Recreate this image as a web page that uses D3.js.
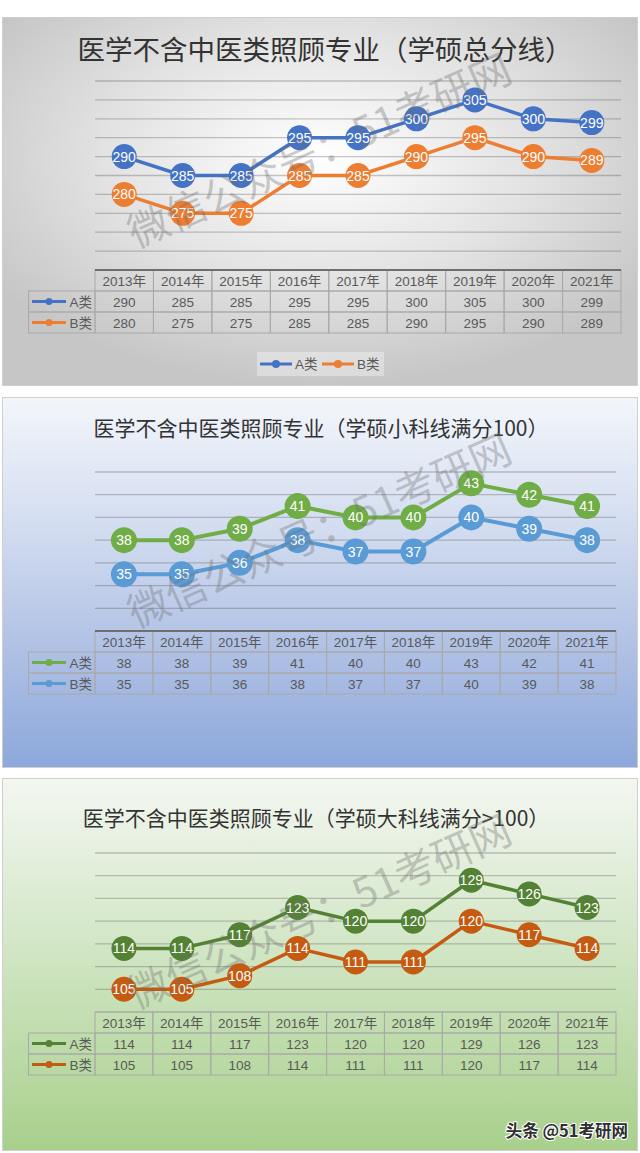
<!DOCTYPE html>
<html>
<head>
<meta charset="utf-8">
<script src="https://cdn.jsdelivr.net/npm/d3@7"></script>
<style>
  body { margin: 0; background: #fff; }
  svg { display: block; }
</style>
</head>
<body>
<script>
// data
const years = ["2013年", "2014年", "2015年", "2016年", "2017年", "2018年", "2019年", "2020年", "2021年"];
const seriesNames = ["A类", "B类"];
const totalA = [290, 285, 285, 295, 295, 300, 305, 300, 299];
const totalB = [280, 275, 275, 285, 285, 290, 295, 290, 289];
const smallA = [38, 38, 39, 41, 40, 40, 43, 42, 41];
const smallB = [35, 35, 36, 38, 37, 37, 40, 39, 38];
const bigA = [114, 114, 117, 123, 120, 120, 129, 126, 123];
const bigB = [105, 105, 108, 114, 111, 111, 120, 117, 114];
const totalGrid = [265, 270, 275, 280, 285, 290, 295, 300, 305, 310];
const smallGrid = [32, 34, 36, 38, 40, 42, 44];
const bigGrid = [105, 110, 115, 120, 125, 130, 135];

const panels = [
  { id: "p1", title: "医学不含中医类照顾专业（学硕总分线）", top: 17, h: 368,
    a: totalA, b: totalB, domain: [260, 310], grid: totalGrid, yTop: 81, yBase: 270,
    x0: 95, x1: 621, colors: ["#4472C4", "#ED7D31"], titleY: 60, titleSize: 27.5,
    titleX: 325, legend: true, r: 12.5, lw: 3.5 },
  { id: "p2", title: "医学不含中医类照顾专业（学硕小科线满分100）", top: 397, h: 370,
    a: smallA, b: smallB, domain: [30, 44], grid: smallGrid, yTop: 472, yBase: 631,
    x0: 95, x1: 616, colors: ["#70AD47", "#5B9BD5"], titleY: 436, titleSize: 21,
    titleX: 321, legend: false, r: 13, lw: 4 },
  { id: "p3", title: "医学不含中医类照顾专业（学硕大科线满分>100）", top: 778, h: 372,
    a: bigA, b: bigB, domain: [100, 135], grid: bigGrid, yTop: 853, yBase: 1012,
    x0: 95, x1: 616, colors: ["#548235", "#C55A11"], titleY: 826, titleSize: 21,
    titleX: 316, legend: false, r: 12.5, lw: 3.5 }
];

init();

function init() {
  let svg = d3.select("body")
              .append("svg")
              .attr("width", 640)
              .attr("height", 1153);

  let defs = svg.append("defs");

  let g1 = defs.append("radialGradient")
               .attr("id", "bg-p1")
               .attr("cx", "50%").attr("cy", "38%").attr("r", "62%");
  g1.append("stop").attr("offset", "0%").attr("stop-color", "#ffffff");
  g1.append("stop").attr("offset", "55%").attr("stop-color", "#e2e2e2");
  g1.append("stop").attr("offset", "100%").attr("stop-color", "#c6c6c6");

  let g2 = defs.append("linearGradient")
               .attr("id", "bg-p2")
               .attr("x1", 0).attr("y1", 0).attr("x2", 0).attr("y2", 1);
  g2.append("stop").attr("offset", "0%").attr("stop-color", "#f3f6fb");
  g2.append("stop").attr("offset", "35%").attr("stop-color", "#d3ddf0");
  g2.append("stop").attr("offset", "70%").attr("stop-color", "#aebfe4");
  g2.append("stop").attr("offset", "100%").attr("stop-color", "#8ca8db");

  let g3 = defs.append("linearGradient")
               .attr("id", "bg-p3")
               .attr("x1", 0).attr("y1", 0).attr("x2", 0).attr("y2", 1);
  g3.append("stop").attr("offset", "0%").attr("stop-color", "#f3f7f1");
  g3.append("stop").attr("offset", "40%").attr("stop-color", "#d6e8cb");
  g3.append("stop").attr("offset", "100%").attr("stop-color", "#a8d08c");

  panels.forEach((p) => drawPanel(svg, p));

  // site stamp bottom right
  svg.append("text")
     .attr("x", 628)
     .attr("y", 1137)
     .attr("text-anchor", "end")
     .attr("font-family", "'Noto Sans CJK SC', sans-serif")
     .attr("font-size", 16.5)
     .attr("font-weight", "bold")
     .attr("fill", "#2e2e2e")
     .attr("stroke", "#ffffff")
     .attr("stroke-width", 2)
     .attr("paint-order", "stroke")
     .text("头条 @51考研网");
}

function drawPanel(svg, p) {
  let g = svg.append("g").attr("id", p.id);

  g.append("rect")
   .attr("x", 2.5).attr("y", p.top + 0.5)
   .attr("width", 635).attr("height", p.h)
   .attr("fill", "url(#bg-" + p.id + ")")
   .attr("stroke", "#cfcfcf");

  g.append("text")
   .attr("x", p.titleX)
   .attr("y", p.titleY)
   .attr("text-anchor", "middle")
   .attr("font-family", "'Noto Sans CJK SC', sans-serif")
   .attr("font-size", p.titleSize)
   .attr("fill", "#333333")
   .text(p.title);

  let x = d3.scaleBand().domain(years).range([p.x0, p.x1]);
  let y = d3.scaleLinear().domain(p.domain).range([p.yBase, p.yTop]);

  // gridlines
  g.selectAll(".grid")
   .data(p.grid)
   .enter()
   .append("line")
   .attr("x1", p.x0).attr("x2", p.x1)
   .attr("y1", (d) => y(d)).attr("y2", (d) => y(d))
   .attr("stroke", "rgba(80,80,80,0.32)")
   .attr("stroke-width", 1.3);

  // table
  let rowH = 21;
  let t0 = y(p.domain[0]);
  let tg = g.append("g");
  let cellFont = "'Liberation Sans', 'Noto Sans CJK SC', sans-serif";

  years.forEach((yr) => {
    tg.append("rect")
      .attr("x", x(yr)).attr("y", t0)
      .attr("width", x.bandwidth()).attr("height", rowH)
      .attr("fill", "none").attr("stroke", "#a9a9a9");
    tg.append("text")
      .attr("x", x(yr) + x.bandwidth() / 2)
      .attr("y", t0 + rowH / 2 + 5)
      .attr("text-anchor", "middle")
      .attr("font-family", cellFont)
      .attr("font-size", 13.5)
      .attr("fill", "#595959")
      .text(yr);
  });

  [p.a, p.b].forEach((vals, si) => {
    let ry = t0 + rowH * (si + 1);
    tg.append("rect")
      .attr("x", 28.5).attr("y", ry)
      .attr("width", p.x0 - 28.5).attr("height", rowH)
      .attr("fill", "none").attr("stroke", "#a9a9a9");
    tg.append("line")
      .attr("x1", 32).attr("x2", 66)
      .attr("y1", ry + rowH / 2).attr("y2", ry + rowH / 2)
      .attr("stroke", p.colors[si]).attr("stroke-width", 3);
    tg.append("circle")
      .attr("cx", 49).attr("cy", ry + rowH / 2).attr("r", 3.5)
      .attr("fill", p.colors[si]);
    tg.append("text")
      .attr("x", 92).attr("y", ry + rowH / 2 + 5)
      .attr("text-anchor", "end")
      .attr("font-family", cellFont)
      .attr("font-size", 13.5)
      .attr("fill", "#595959")
      .text(seriesNames[si]);
    vals.forEach((v, i) => {
      tg.append("rect")
        .attr("x", x(years[i])).attr("y", ry)
        .attr("width", x.bandwidth()).attr("height", rowH)
        .attr("fill", "none").attr("stroke", "#a9a9a9");
      tg.append("text")
        .attr("x", x(years[i]) + x.bandwidth() / 2)
        .attr("y", ry + rowH / 2 + 5)
        .attr("text-anchor", "middle")
        .attr("font-family", cellFont)
        .attr("font-size", 13.5)
        .attr("fill", "#595959")
        .text(v);
    });
  });

  // axis line = table top
  g.append("line")
   .attr("x1", p.x0).attr("x2", p.x1)
   .attr("y1", t0).attr("y2", t0)
   .attr("stroke", p.id == "p3" ? "#a9a9a9" : "#6f6f6f")
   .attr("stroke-width", p.id == "p3" ? 1 : 2);

  // lines + markers
  let line = d3.line()
               .x((d, i) => x(years[i]) + x.bandwidth() / 2)
               .y((d) => y(d));

  [p.a, p.b].forEach((vals, si) => {
    g.append("path")
     .attr("d", line(vals))
     .attr("fill", "none")
     .attr("stroke", p.colors[si])
     .attr("stroke-width", p.lw)
     .attr("stroke-linejoin", "round");
  });

  [p.a, p.b].forEach((vals, si) => {
    let pts = g.selectAll(".pt-" + si)
               .data(vals)
               .enter()
               .append("g")
               .attr("transform", (d, i) => "translate(" + (x(years[i]) + x.bandwidth() / 2) + "," + y(d) + ")");
    pts.append("circle")
       .attr("r", p.r)
       .attr("fill", p.colors[si]);
    pts.append("text")
       .attr("y", 5)
       .attr("text-anchor", "middle")
       .attr("font-family", "'Liberation Sans', Arial, sans-serif")
       .attr("font-size", 14)
       .attr("fill", "#ffffff")
       .text((d) => d);
  });

  if (p.legend) {
    let lg = g.append("g");
    lg.append("rect")
      .attr("x", 257).attr("y", 352)
      .attr("width", 127).attr("height", 24)
      .attr("fill", "rgba(255,255,255,0.35)");
    let lx = [260, 322];
    seriesNames.forEach((s, si) => {
      lg.append("line")
        .attr("x1", lx[si]).attr("x2", lx[si] + 32)
        .attr("y1", 364).attr("y2", 364)
        .attr("stroke", p.colors[si]).attr("stroke-width", 3);
      lg.append("circle")
        .attr("cx", lx[si] + 16).attr("cy", 364).attr("r", 4)
        .attr("fill", p.colors[si]);
      lg.append("text")
        .attr("x", lx[si] + 35).attr("y", 369)
        .attr("font-family", "'Liberation Sans', 'Noto Sans CJK SC', sans-serif")
        .attr("font-size", 13.5)
        .attr("fill", "#595959")
        .text(s);
    });
  }

  // watermark over everything
  g.append("text")
   .attr("transform", "translate(318," + (p.top + 131) + ") rotate(-24)")
   .attr("text-anchor", "middle")
   .attr("dominant-baseline", "central")
   .attr("font-family", "'Noto Sans CJK SC', sans-serif")
   .attr("font-size", 41)
   .attr("fill", "rgba(110,110,110,0.36)")
   .text("微信公众号：51考研网");
}
</script>
</body>
</html>
